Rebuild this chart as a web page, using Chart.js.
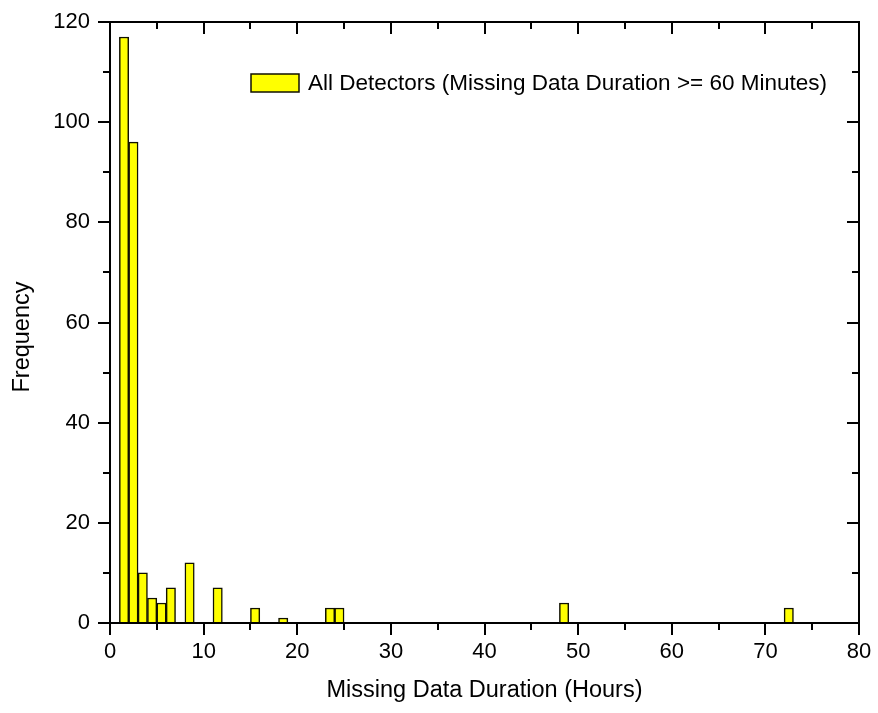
<!DOCTYPE html>
<html>
<head>
<meta charset="utf-8">
<title>Missing data duration histogram</title>
<script src="https://cdn.jsdelivr.net/npm/chart.js@4.4.0/dist/chart.umd.min.js"></script>
<style>
  html, body { margin: 0; padding: 0; background: #fff; }
  #wrap { width: 878px; height: 713px; }
</style>
</head>
<body>
<div id="wrap"><canvas id="hist"></canvas></div>
<script>
// histogram bins: left edge (hours) and count per 1-hour bin
const binStart = [1, 2, 3, 4, 5, 6, 8, 11, 15, 18, 23, 24, 48, 72];
const binCounts = [117, 96, 10, 5, 4, 7, 12, 7, 3, 1, 3, 3, 4, 3];
const binWidth = 1;

const xTicks = [0, 10, 20, 30, 40, 50, 60, 70, 80];
const yTicks = [0, 20, 40, 60, 80, 100, 120];

const seriesLabel = 'All Detectors (Missing Data Duration >= 60 Minutes)';
const xTitle = 'Missing Data Duration (Hours)';
const yTitle = 'Frequency';

const FONT = '"Liberation Sans", Arial, sans-serif';

// frame, mirrored major/minor ticks, y title and the legend box
const frameAndTicks = {
  id: 'frameAndTicks',
  afterDatasetsDraw(chart) {
    const { ctx, chartArea: a, scales: { x, y } } = chart;
    ctx.save();
    ctx.strokeStyle = '#000';
    ctx.lineWidth = 2;
    ctx.strokeRect(a.left, a.top, a.right - a.left, a.bottom - a.top);

    ctx.beginPath();
    const xStep = xTicks[1] - xTicks[0];
    for (let v = x.min; v <= x.max; v += xStep / 2) {
      const px = Math.round(x.getPixelForValue(v));
      const len = v % xStep === 0 ? 12 : 7;
      ctx.moveTo(px, a.bottom); ctx.lineTo(px, a.bottom + len);
      ctx.moveTo(px, a.top); ctx.lineTo(px, a.top + len);
    }
    const yStep = yTicks[1] - yTicks[0];
    for (let v = y.min; v <= y.max; v += yStep / 2) {
      const py = Math.round(y.getPixelForValue(v));
      const len = v % yStep === 0 ? 12 : 7;
      ctx.moveTo(a.left, py); ctx.lineTo(a.left - len, py);
      ctx.moveTo(a.right, py); ctx.lineTo(a.right - len, py);
    }
    ctx.stroke();

    // y title, rotated
    ctx.fillStyle = '#000';
    ctx.font = '23.5px ' + FONT;
    ctx.textAlign = 'center';
    ctx.textBaseline = 'middle';
    ctx.translate(23, 337);
    ctx.rotate(-Math.PI / 2);
    ctx.fillText(yTitle, 0, 0);
    ctx.setTransform(1, 0, 0, 1, 0, 0);

    // legend
    const ds = chart.data.datasets[0];
    const bx = a.left + 141, by = 74;
    ctx.fillStyle = ds.backgroundColor;
    ctx.fillRect(bx, by, 48, 18);
    ctx.lineWidth = 1.5;
    ctx.strokeStyle = ds.borderColor;
    ctx.strokeRect(bx, by, 48, 18);
    ctx.fillStyle = '#000';
    ctx.font = '22.5px ' + FONT;
    ctx.textAlign = 'left';
    ctx.fillText(ds.label, bx + 57, by + 10);
    ctx.restore();
  }
};

new Chart(document.getElementById('hist'), {
  type: 'bar',
  data: {
    datasets: [{
      label: seriesLabel,
      data: binStart.map((s, i) => ({ x: s + binWidth / 2, y: binCounts[i] })),
      backgroundColor: '#ffff00',
      borderColor: '#111100',
      borderWidth: 1.5,
      barPercentage: 1,
      categoryPercentage: 1
    }]
  },
  options: {
    responsive: true,
    maintainAspectRatio: false,
    animation: false,
    layout: { padding: { top: 22, right: 19, left: 0, bottom: 0 } },
    plugins: {
      legend: { display: false },
      tooltip: { enabled: false }
    },
    scales: {
      x: {
        type: 'linear',
        min: 0,
        max: 80,
        offset: false,
        grid: { display: false, drawTicks: false },
        border: { display: false },
        afterBuildTicks: (scale) => { scale.ticks = xTicks.map(v => ({ value: v })); },
        afterFit: (scale) => {
          scale.height = 90;
          scale.paddingLeft = 0;
          scale.paddingRight = 0;
        },
        ticks: { color: '#000', padding: 16, maxRotation: 0, font: { family: FONT, size: 22 } },
        title: {
          display: true,
          text: xTitle,
          color: '#000',
          padding: { top: 0, bottom: 8 },
          font: { family: FONT, size: 23.5 }
        }
      },
      y: {
        min: 0,
        max: 120,
        grid: { display: false, drawTicks: false },
        border: { display: false },
        afterBuildTicks: (scale) => { scale.ticks = yTicks.map(v => ({ value: v })); },
        afterFit: (scale) => {
          scale.width = 110;
          scale.paddingTop = 0;
          scale.paddingBottom = 0;
        },
        ticks: { color: '#000', padding: 20, font: { family: FONT, size: 22 } }
      }
    }
  },
  plugins: [frameAndTicks]
});
</script>
</body>
</html>
